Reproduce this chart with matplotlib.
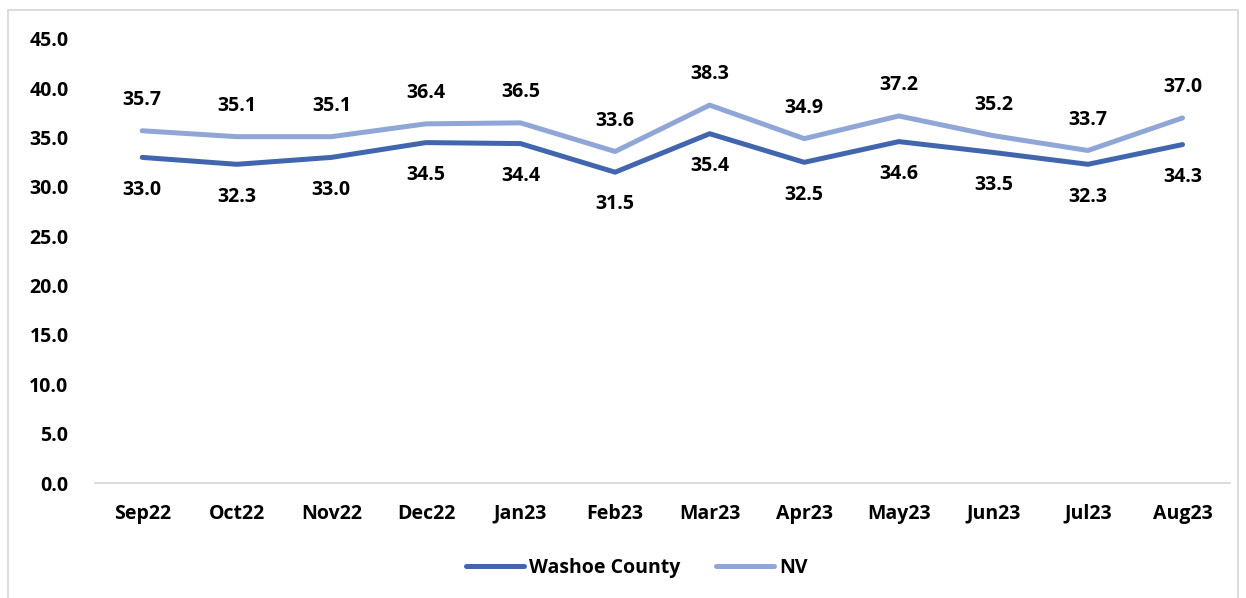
import matplotlib.pyplot as plt
from matplotlib.patches import Rectangle

months = ['Sep22', 'Oct22', 'Nov22', 'Dec22', 'Jan23', 'Feb23',
          'Mar23', 'Apr23', 'May23', 'Jun23', 'Jul23', 'Aug23']
washoe = [33.0, 32.3, 33.0, 34.5, 34.4, 31.5, 35.4, 32.5, 34.6, 33.5, 32.3, 34.3]
nv = [35.7, 35.1, 35.1, 36.4, 36.5, 33.6, 38.3, 34.9, 37.2, 35.2, 33.7, 37.0]
yticks = [0, 5, 10, 15, 20, 25, 30, 35, 40, 45]

plt.rcParams['font.family'] = ['Open Sans', 'DejaVu Sans']
plt.rcParams['font.weight'] = 'bold'
fs = 14

c_washoe = '#4166ae'
c_nv = '#8fa6d6'

fig = plt.figure(figsize=(12.46, 5.98), dpi=100)
ax = fig.add_axes([0.0762, 0.1923, 0.9108, 0.7425])

x = range(len(months))
ax.plot(x, washoe, color=c_washoe, lw=3.6, label='Washoe County', solid_capstyle='round')
ax.plot(x, nv, color=c_nv, lw=3.6, label='NV', solid_capstyle='round')

for i in x:
    ax.annotate(f'{nv[i]:.1f}', (i, nv[i]), xytext=(0, 15), textcoords='offset points',
                ha='center', va='bottom', fontsize=fs, fontweight='bold')
    ax.annotate(f'{washoe[i]:.1f}', (i, washoe[i]), xytext=(0, -16), textcoords='offset points',
                ha='center', va='top', fontsize=fs, fontweight='bold')

ax.set_xlim(-0.5, len(months) - 0.5)
ax.set_ylim(0, 45)
ax.set_yticks(yticks)
ax.set_yticklabels([f'{v:.1f}' for v in yticks], fontsize=fs, fontweight='bold')
ax.set_xticks(list(x))
ax.set_xticklabels(months, fontsize=fs, fontweight='bold')
ax.tick_params(length=0, pad=15)
ax.tick_params(axis='y', pad=19)
for s in ['top', 'right', 'left']:
    ax.spines[s].set_visible(False)
ax.spines['bottom'].set_color('#d9d9d9')
ax.spines['bottom'].set_linewidth(1.3)

fig.legend(loc='center', bbox_to_anchor=(0.511, 0.051), ncol=2, frameon=False,
           prop={'size': fs, 'weight': 'bold'}, handlelength=3.0, columnspacing=1.8,
           handletextpad=0.25)

fig.patches.append(Rectangle((8 / 1246, -0.1), 1230 / 1246, 1 - 10 / 598 + 0.1,
                             transform=fig.transFigure, fill=False,
                             edgecolor='#d9d9d9', lw=1.3))

fig.savefig('out.png', dpi=100)
